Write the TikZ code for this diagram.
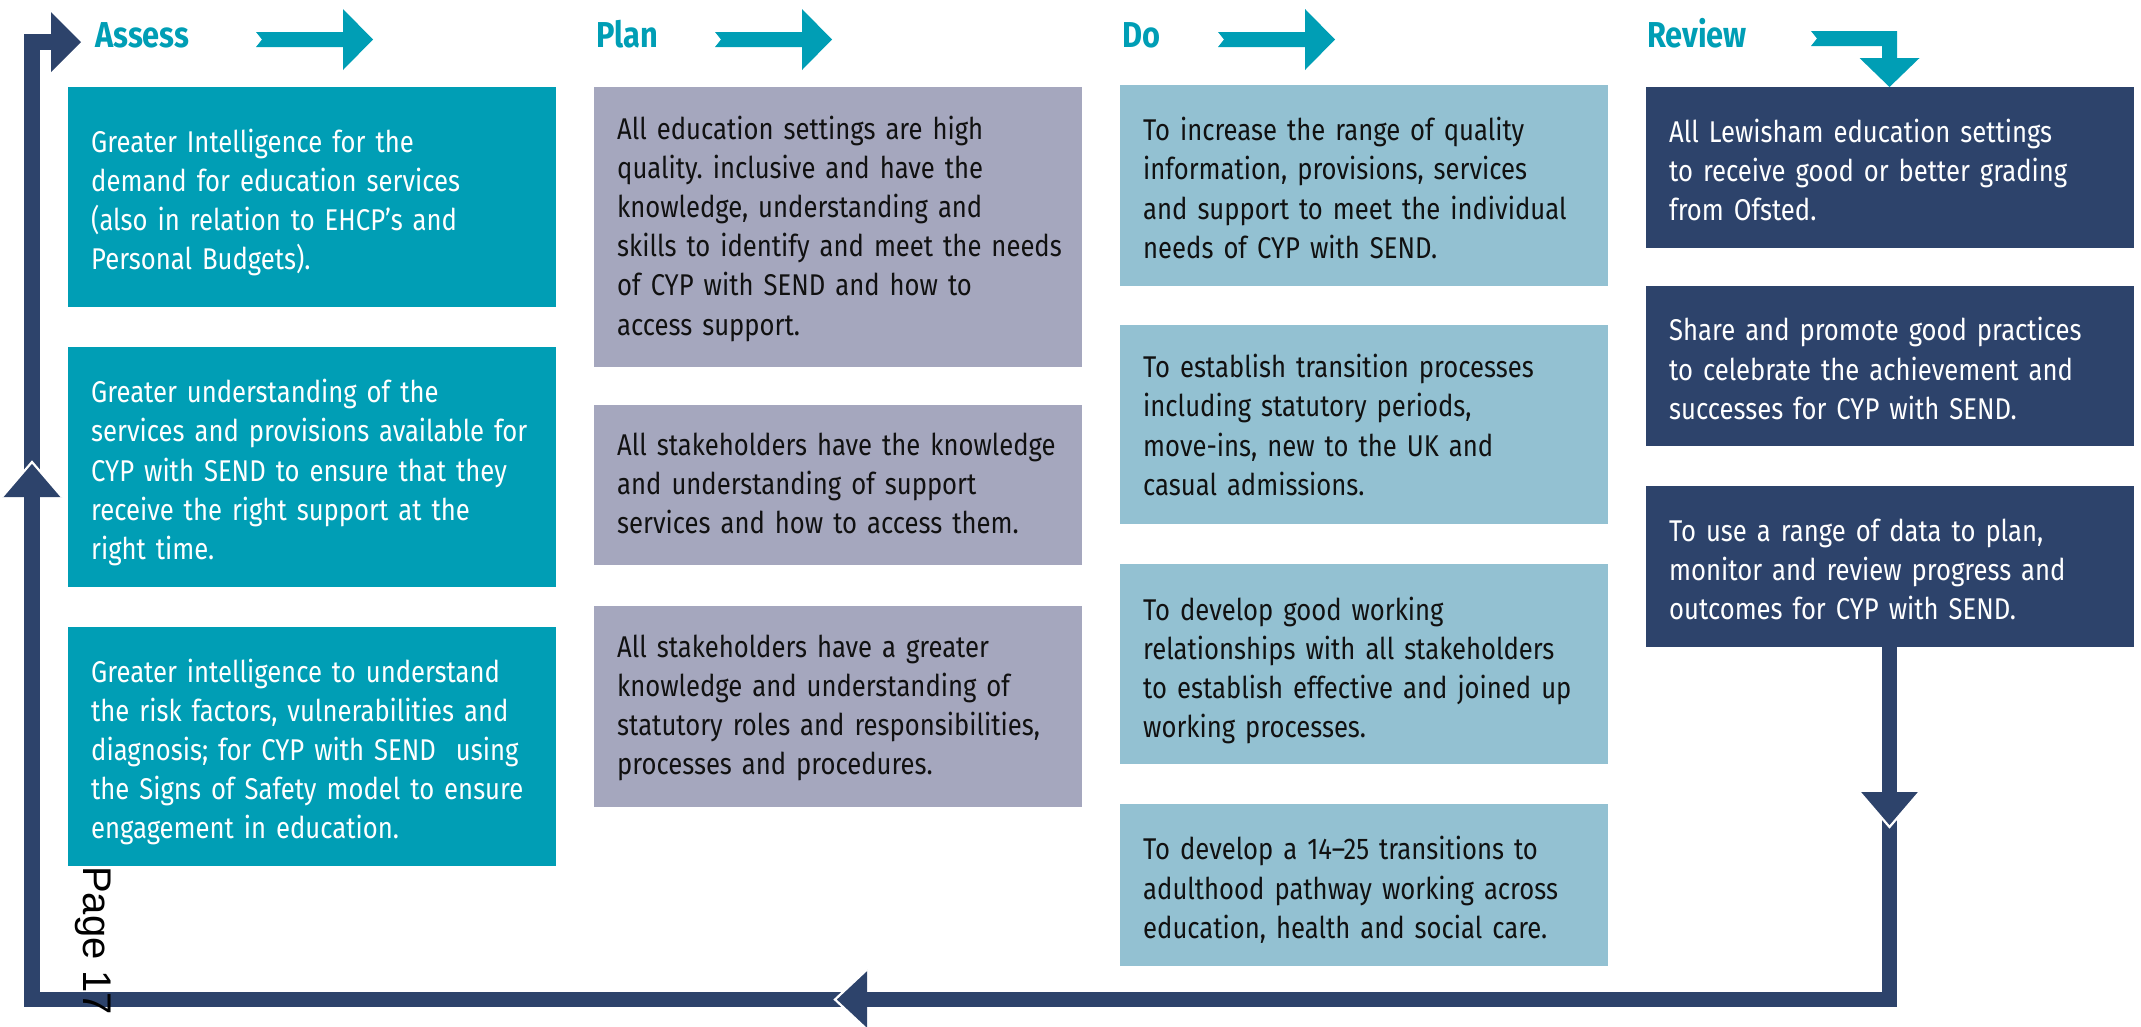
\documentclass[tikz,border=0pt]{standalone}
\usepackage{fontspec}
\setmainfont{Fira Sans}[FakeStretch=0.855]
\newfontfamily\pagefont{Liberation Sans}
\definecolor{teal}{HTML}{009EB5}
\definecolor{navy}{HTML}{2D436B}
\definecolor{planc}{HTML}{A5A7BE}
\definecolor{doc}{HTML}{93C1D2}
\definecolor{ink}{HTML}{111111}
\newcommand\boxlines[2][-6pt]{\raisebox{#1}[\height][\depth]{\begin{tabular}{@{}l@{}}#2\end{tabular}}}
\frenchspacing
\begin{document}
\begin{tikzpicture}[x=1pt,y=-1pt,
  box/.style={rectangle, anchor=north west, inner xsep=23pt, inner ysep=0pt,
    text width=442pt, align=left, font=\fontsize{30}{39.2}\selectfont\frenchspacing},
  assessbox/.style={box, fill=teal, text=white},
  planbox/.style={box, fill=planc, text=ink},
  dobox/.style={box, fill=doc, text=ink},
  reviewbox/.style={box, fill=navy, text=white},
  header/.style={anchor=base west, inner sep=0pt, text=teal, font=\fontsize{36}{40}\selectfont\bfseries},
  frame/.style={draw=navy, line width=15.5pt, line join=miter},
  headfill/.style={fill=navy},
  gap/.style={draw=white, line width=2.2pt},
  tealarrow/.style={fill=teal}
]
\useasboundingbox (0,0) rectangle (2141,1026);

% headers
\node[header] (hA) at (95,47) {Assess};
\node[header] (hP) at (596,47) {Plan};
\node[header] (hD) at (1122,47) {Do};
\node[header] (hR) at (1647,47) {Review};

% header arrows
\fill[tealarrow] (256,32) -- (343,32) -- (343,9) -- (373,39.5) -- (343,70) -- (343,47) -- (256,47) -- (262,39.5) -- cycle;
\fill[tealarrow] (715,32) -- (802,32) -- (802,9) -- (832,39.5) -- (802,70) -- (802,47) -- (715,47) -- (721,39.5) -- cycle;
\fill[tealarrow] (1218,32) -- (1305,32) -- (1305,9) -- (1335,39.5) -- (1305,70) -- (1305,47) -- (1218,47) -- (1224,39.5) -- cycle;
\fill[tealarrow] (1811,31) -- (1897,31) -- (1897,58) -- (1919.5,58) -- (1889.5,87) -- (1859.5,58) -- (1882,58) -- (1882,46) -- (1811,46) -- (1817,38.5) -- cycle;

% Assess
\node[assessbox, minimum height=220pt] (A1) at (68,87) {\boxlines{Greater Intelligence for the\\demand for education services\\(also in relation to EHCP’s and\\Personal Budgets).}};
\node[assessbox, minimum height=240pt] (A2) at (68,347) {\boxlines{Greater understanding of the\\services and provisions available for\\CYP with SEND to ensure that they\\receive the right support at the\\right time.}};
\node[assessbox, minimum height=239pt] (A3) at (68,627) {\boxlines{Greater intelligence to understand\\the risk factors, vulnerabilities and\\diagnosis; for CYP with SEND\ \ using\\the Signs of Safety model to ensure\\engagement in education.}};

% Plan
\node[planbox, minimum height=280pt] (P1) at (594,87) {\boxlines[-2pt]{All education settings are high\\quality. inclusive and have the\\knowledge, understanding and\\skills to identify and meet the needs\\of CYP with SEND and how to\\access support.}};
\node[planbox, minimum height=160pt] (P2) at (594,405) {\boxlines[-1.5pt]{All stakeholders have the knowledge\\and understanding of support\\services and how to access them.}};
\node[planbox, minimum height=201pt] (P3) at (594,606) {\boxlines[-1.5pt]{All stakeholders have a greater\\knowledge and understanding of\\statutory roles and responsibilities,\\processes and procedures.}};

% Do
\node[dobox, minimum height=201pt] (D1) at (1120,85) {\boxlines{To increase the range of quality\\information, provisions, services\\and support to meet the individual\\needs of CYP with SEND.}};
\node[dobox, minimum height=199pt] (D2) at (1120,325) {\boxlines[-4pt]{To establish transition processes\\including statutory periods,\\move-ins, new to the UK and\\casual admissions.}};
\node[dobox, minimum height=200pt] (D3) at (1120,564) {\boxlines[-7pt]{To develop good working\\relationships with all stakeholders\\to establish effective and joined up\\working processes.}};
\node[dobox, minimum height=162pt] (D4) at (1120,804) {\boxlines{To develop a 14–25 transitions to\\adulthood pathway working across\\education, health and social care.}};

% Review
\node[reviewbox, minimum height=161pt] (R1) at (1646,87) {\boxlines{All Lewisham education settings\\to receive good or better grading\\from Ofsted.}};
\node[reviewbox, minimum height=160pt] (R2) at (1646,286) {\boxlines{Share and promote good practices\\to celebrate the achievement and\\successes for CYP with SEND.}};
\node[reviewbox, minimum height=161pt] (R3) at (1646,486) {\boxlines{To use a range of data to plan,\\monitor and review progress and\\outcomes for CYP with SEND.}};

% frame loop
\coordinate (cbr) at (1889.5,999.5);
\coordinate (cbl) at (32,999.5);
\coordinate (ctl) at (32,42);
\coordinate (cst) at (52,42);
\draw[frame] (R3.south -| cbr) -- (cbr) -- (cbl) -- (ctl) -- (cst);

% arrowheads on the frame
\fill[headfill] (51,12) -- (81,42) -- (51,72) -- cycle;
\fill[headfill] (1859.5,792) -- (1919.5,792) -- (1889.5,827) -- cycle;
\draw[gap] (1859.5,792) -- (1889.5,827) -- (1919.5,792);
\fill[headfill] (867,969.5) -- (835,999.5) -- (867,1029.5) -- cycle;
\draw[gap] (867,969.5) -- (835,999.5) -- (867,1029.5);
\fill[headfill] (2,497) -- (32,462) -- (62,497) -- cycle;
\draw[gap] (2,497) -- (32,462) -- (62,497);

% page number
\node[rotate=-90, anchor=base west, inner sep=0pt, font=\pagefont\fontsize{40}{44}\selectfont] (pg) at (83,866) {Page 17};
\end{tikzpicture}
\end{document}
